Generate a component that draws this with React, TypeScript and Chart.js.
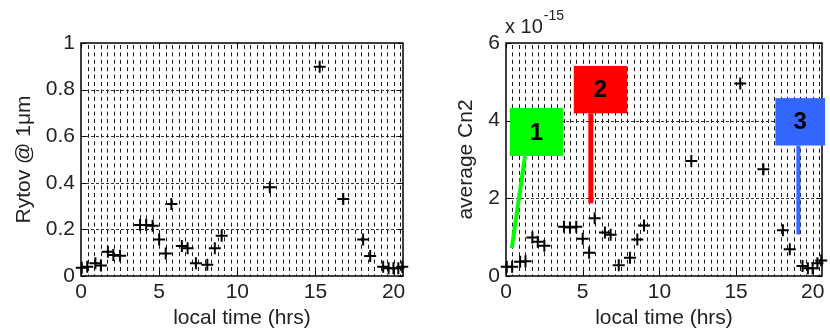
import React, { useEffect, useRef } from "react";
import { Chart, registerables } from "chart.js";

Chart.register(...registerables);

// ---- data ----
const hours = [0.05, 0.4, 0.92, 1.27, 1.72, 2.07, 2.5, 3.78, 4.17, 4.58, 5.0, 5.42, 5.78, 6.45, 6.82, 7.35, 8.08, 8.56, 9.0, 12.08, 15.27, 16.78, 18.05, 18.5, 19.33, 19.68, 19.99, 20.3, 20.55];
const rytov = [0.035, 0.04, 0.055, 0.045, 0.104, 0.09, 0.087, 0.219, 0.219, 0.216, 0.157, 0.097, 0.309, 0.129, 0.119, 0.055, 0.048, 0.119, 0.173, 0.381, 0.898, 0.33, 0.157, 0.086, 0.04, 0.033, 0.033, 0.033, 0.04];
// average Cn2 in units of 1e-15
const cn2E15 = [0.24, 0.24, 0.37, 0.38, 0.99, 0.88, 0.78, 1.27, 1.25, 1.27, 0.96, 0.6, 1.49, 1.12, 1.06, 0.28, 0.47, 0.94, 1.3, 2.96, 4.96, 2.75, 1.18, 0.69, 0.26, 0.2, 0.2, 0.33, 0.4];

const xTicks = [0, 5, 10, 15, 20];
const rytovTicks = [0, 0.2, 0.4, 0.6, 0.8, 1];
const cn2Ticks = [0, 2, 4, 6];

// callouts on the Cn2 panel (data coordinates)
const calloutLabels = ["1", "2", "3"];
const calloutColors = ["#00ff00", "#ff0000", "#3366ff"];
const calloutBoxX = [[0.26, 3.72], [4.42, 7.9], [17.56, 20.8]];
const calloutBoxY = [[3.09, 4.33], [4.19, 5.41], [3.36, 4.58]];
const calloutLineFrom = [[1.24, 3.09], [5.53, 4.19], [19.06, 3.36]];
const calloutLineTo = [[0.38, 0.72], [5.53, 1.87], [19.06, 1.07]];

const FONT = "'Liberation Sans', Arial, sans-serif";
const TEXT = "#222";
const GRID_STEP = 5 / 12;

const matlabFrame = {
  id: "matlabFrame",
  beforeDatasetsDraw(chart: any) {
    const { ctx, chartArea, scales } = chart;
    const { left, right, top, bottom } = chartArea;
    const x = scales.x, y = scales.y;
    ctx.save();
    // vertical minor grid
    ctx.strokeStyle = "#1a1a1a";
    ctx.lineWidth = 1;
    ctx.setLineDash([4, 3.4]);
    for (let i = 1; i * GRID_STEP < x.max - 0.05; i++) {
      const px = Math.round(x.getPixelForValue(i * GRID_STEP)) + 0.5;
      ctx.beginPath();
      ctx.moveTo(px, top + 2);
      ctx.lineTo(px, bottom);
      ctx.stroke();
    }
    // horizontal major grid
    ctx.strokeStyle = "#333";
    ctx.setLineDash([3, 2]);
    y.ticks.forEach((t: any) => {
      if (t.value <= y.min || t.value >= y.max) return;
      const py = Math.round(y.getPixelForValue(t.value)) + 0.5;
      ctx.beginPath();
      ctx.moveTo(left, py);
      ctx.lineTo(right, py);
      ctx.stroke();
    });
    ctx.setLineDash([]);
    // tick marks (inward, all sides)
    ctx.strokeStyle = "#000";
    ctx.lineWidth = 1;
    const tl = 5;
    x.ticks.forEach((t: any) => {
      const px = Math.round(x.getPixelForValue(t.value)) + 0.5;
      ctx.beginPath();
      ctx.moveTo(px, bottom); ctx.lineTo(px, bottom - tl);
      ctx.moveTo(px, top); ctx.lineTo(px, top + tl);
      ctx.stroke();
    });
    y.ticks.forEach((t: any) => {
      const py = Math.round(y.getPixelForValue(t.value)) + 0.5;
      ctx.beginPath();
      ctx.moveTo(left, py); ctx.lineTo(left + tl, py);
      ctx.moveTo(right, py); ctx.lineTo(right - tl, py);
      ctx.stroke();
    });
    // frame
    ctx.lineWidth = 1.5;
    ctx.strokeRect(left, top, right - left, bottom - top);
    ctx.restore();
  },
};

const calloutPlugin = {
  id: "callouts",
  afterDatasetsDraw(chart: any) {
    const { ctx, scales } = chart;
    const x = scales.x, y = scales.y;
    ctx.save();
    calloutLabels.forEach((lab, i) => {
      // pointer line
      ctx.strokeStyle = calloutColors[i];
      ctx.lineWidth = i === 1 ? 5 : 4;
      ctx.beginPath();
      ctx.moveTo(x.getPixelForValue(calloutLineFrom[i][0]), y.getPixelForValue(calloutLineFrom[i][1]));
      ctx.lineTo(x.getPixelForValue(calloutLineTo[i][0]), y.getPixelForValue(calloutLineTo[i][1]));
      ctx.stroke();
      // box
      const x1 = x.getPixelForValue(calloutBoxX[i][0]);
      const x2 = x.getPixelForValue(calloutBoxX[i][1]);
      const y1 = y.getPixelForValue(calloutBoxY[i][1]);
      const y2 = y.getPixelForValue(calloutBoxY[i][0]);
      ctx.fillStyle = calloutColors[i];
      ctx.fillRect(x1, y1, x2 - x1, y2 - y1);
      ctx.fillStyle = "#000";
      ctx.font = `bold 24px ${FONT}`;
      ctx.textAlign = "center";
      ctx.textBaseline = "middle";
      ctx.fillText(lab, (x1 + x2) / 2, (y1 + y2) / 2 + 1);
    });
    // exponent label
    const left = chart.chartArea.left;
    ctx.fillStyle = TEXT;
    ctx.textAlign = "left";
    ctx.textBaseline = "alphabetic";
    ctx.font = `20px ${FONT}`;
    ctx.fillText("x 10", left - 1, 33);
    const w = ctx.measureText("x 10").width;
    ctx.font = `14px ${FONT}`;
    ctx.fillText("-15", left - 1 + w + 1, 20);
    ctx.restore();
  },
};

const fmt = (v: number) => String(Math.round(v * 1000) / 1000);

function makeConfig(values: number[], yTicks: number[], yTitle: string, yTitlePad: number, axisWidth: number, padRight: number, extra: any[]) {
  return {
    type: "scatter" as const,
    data: {
      datasets: [
        {
          data: hours.map((h, i) => ({ x: h, y: values[i] })),
          pointStyle: "cross",
          radius: 6,
          borderWidth: 2,
          borderColor: "#000",
          backgroundColor: "#000",
          showLine: false,
          clip: false,
        },
      ],
    },
    options: {
      animation: false,
      responsive: false,
      layout: { padding: { top: 43, right: padRight, left: 0, bottom: 0 } },
      plugins: { legend: { display: false }, tooltip: { enabled: false } },
      scales: {
        x: {
          type: "linear",
          min: 0,
          max: 20.6,
          grid: { display: false, drawTicks: false },
          border: { display: false },
          afterBuildTicks: (s: any) => { s.ticks = xTicks.map((v) => ({ value: v })); },
          afterFit: (s: any) => { s.height = 56; },
          ticks: { padding: 4, color: TEXT, font: { family: FONT, size: 21 }, autoSkip: false, maxRotation: 0, callback: (v: any) => fmt(Number(v)) },
          title: { display: true, text: "local time (hrs)", color: TEXT, font: { family: FONT, size: 21 }, padding: { top: 0, bottom: 1 } },
        },
        y: {
          type: "linear",
          min: yTicks[0],
          max: yTicks[yTicks.length - 1],
          grid: { display: false, drawTicks: false },
          border: { display: false },
          afterBuildTicks: (s: any) => { s.ticks = yTicks.map((v) => ({ value: v })); },
          afterFit: (s: any) => { s.width = axisWidth; },
          ticks: { padding: 6, color: TEXT, font: { family: FONT, size: 21 }, callback: (v: any) => fmt(Number(v)) },
          title: { display: true, text: yTitle, color: TEXT, font: { family: FONT, size: 21 }, padding: { top: yTitlePad, bottom: 0 } },
        },
      },
    },
    plugins: [matlabFrame, ...extra],
  };
}

function Panel({ cfg }: { cfg: any }) {
  const ref = useRef<HTMLCanvasElement | null>(null);
  useEffect(() => {
    if (!ref.current) return;
    const chart = new Chart(ref.current, cfg);
    return () => chart.destroy();
  }, [cfg]);
  return <canvas ref={ref} width={415} height={332} style={{ display: "block", width: 415, height: 332 }} />;
}

const leftCfg = makeConfig(rytov, rytovTicks, "Rytov @ 1μm", 12, 81, 12, []);
const rightCfg = makeConfig(cn2E15, cn2Ticks, "average Cn2", 39, 91, 3, [calloutPlugin]);

export default function App() {
  return (
    <div style={{ position: "absolute", left: 0, top: 0, width: 830, height: 332, display: "flex", background: "#fff", overflow: "hidden" }}>
      <Panel cfg={leftCfg} />
      <Panel cfg={rightCfg} />
    </div>
  );
}
